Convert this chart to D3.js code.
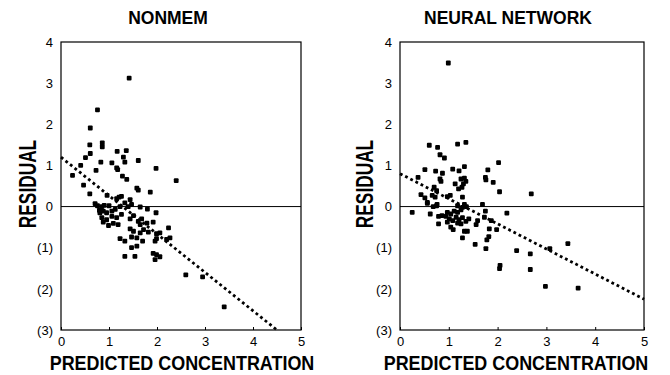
<!DOCTYPE html>
<html>
<head>
<meta charset="utf-8">
<script src="https://cdn.jsdelivr.net/npm/d3@7"></script>
<style>
  body { margin: 0; background: #fff; }
  svg { display: block; font-family: "Liberation Sans", Arial, sans-serif; }
</style>
</head>
<body>
<div id="chart"></div>
<script>
// predicted concentration / residual pairs
const nonmemPoints = [
  [1.42, 3.12], [0.76, 2.35], [0.61, 1.91], [0.86, 1.55], [0.86, 1.45], [0.60, 1.50],
  [0.61, 1.29], [0.51, 1.19], [1.17, 1.34], [1.36, 1.36], [1.30, 1.20], [1.33, 1.08],
  [1.61, 1.12], [0.83, 1.08], [1.06, 1.06], [1.16, 0.94], [1.18, 0.90], [0.41, 1.00],
  [0.73, 0.88], [1.98, 0.93], [2.40, 0.63], [0.24, 0.76], [1.28, 0.74], [1.37, 0.66],
  [0.47, 0.52], [1.58, 0.45], [1.61, 0.40], [1.86, 0.35], [0.60, 0.31], [0.96, 0.27],
  [1.21, 0.23], [1.26, 0.25], [1.16, 0.19], [1.44, 0.17],
  [0.71, 0.07], [0.76, 0.02], [0.85, 0.00], [0.90, 0.03], [1.00, 0.02], [1.06, -0.11],
  [1.13, -0.07], [1.23, 0.00], [1.33, 0.09], [1.40, 0.00], [1.47, 0.05], [1.65, -0.01],
  [1.80, -0.06], [1.98, -0.15], [0.88, -0.11], [0.95, -0.15], [0.81, -0.15], [0.80, -0.09],
  [0.85, -0.27], [0.95, -0.32], [1.06, -0.24], [1.16, -0.27], [1.26, -0.19],
  [0.88, -0.38], [0.99, -0.46], [1.09, -0.41], [1.19, -0.44],
  [1.44, -0.30], [1.51, -0.22], [1.61, -0.36], [1.68, -0.30], [1.65, -0.44], [1.79, -0.40],
  [1.92, -0.38], [1.44, -0.54], [1.51, -0.60], [1.65, -0.64], [1.72, -0.56], [1.82, -0.62],
  [1.99, -0.66], [2.06, -0.64], [2.24, -0.52], [1.23, -0.78], [1.33, -0.84], [1.47, -0.74],
  [1.58, -0.76], [1.70, -0.84], [1.96, -0.84], [1.99, -0.78], [2.20, -0.80], [2.27, -0.76],
  [1.47, -1.00], [1.58, -0.96], [1.33, -1.21], [1.54, -1.21], [1.92, -1.14], [1.99, -1.17],
  [2.06, -1.22], [1.96, -1.29], [2.60, -1.66], [2.95, -1.71], [3.40, -2.44]
];

const neuralPoints = [
  [0.99, 3.49], [0.60, 1.49], [0.77, 1.44], [1.18, 1.52], [1.35, 1.56], [0.82, 1.26],
  [0.91, 1.18], [0.51, 0.90], [0.73, 0.86], [0.87, 0.81], [1.08, 0.91], [1.21, 0.87],
  [1.32, 0.97], [0.37, 0.71], [0.82, 0.67], [0.84, 0.61], [1.25, 0.67], [1.32, 0.69],
  [1.35, 0.61], [1.30, 0.55], [1.27, 0.47], [1.13, 0.55], [1.20, 0.43], [1.75, 0.71],
  [1.80, 0.89], [1.76, 0.65], [2.02, 1.07], [1.91, 0.59], [2.04, 0.36], [0.43, 0.29],
  [0.51, 0.21], [0.70, 0.47], [0.75, 0.39], [0.66, 0.27], [0.72, 0.23], [0.97, 0.24],
  [1.03, 0.27], [1.28, 0.23], [0.56, 0.08], [0.68, 0.00], [0.75, 0.02], [0.76, 0.05],
  [1.18, 0.02], [1.32, 0.05], [1.36, 0.00], [1.69, 0.05],
  [0.25, -0.14], [0.56, 0.10], [0.62, -0.18], [0.79, -0.24], [0.86, -0.22], [0.79, -0.42],
  [0.97, -0.14], [1.04, -0.18], [1.11, -0.11], [1.18, -0.14], [1.25, -0.08], [1.28, -0.02],
  [1.01, -0.30], [1.08, -0.34], [1.15, -0.26], [1.21, -0.32], [1.28, -0.27], [1.35, -0.36],
  [1.41, -0.30], [1.18, -0.40], [1.04, -0.50], [1.09, -0.56], [1.25, -0.42], [1.32, -0.60],
  [1.38, -0.60], [1.28, -0.76], [0.97, -0.38], [0.94, -0.24],
  [1.59, -0.34], [1.56, -0.44], [1.73, -0.26], [1.75, -0.11], [1.87, -0.34], [1.83, -0.54],
  [1.98, -0.56], [2.19, -0.16], [1.82, -0.73], [1.78, -0.81], [1.54, -0.92], [1.76, -1.02],
  [2.05, -1.43], [2.04, -1.51], [2.39, -1.07], [2.67, -1.15], [2.67, -1.53], [3.07, -1.02],
  [3.44, -0.90], [2.98, -1.94], [3.65, -1.98], [2.69, 0.31]
];

// dotted regression lines: [x, y] end points
const nonmemTrend = [[0, 1.2], [4.5, -3]];
const neuralTrend = [[0, 0.8], [5, -2.25]];

const xTicks = [0, 1, 2, 3, 4, 5];
const yTicks = [4, 3, 2, 1, 0, -1, -2, -3];
const yTickLabels = ['4', '3', '2', '1', '0', '(1)', '(2)', '(3)'];

const width = 670;
const height = 375;
const plotTop = 42;
const plotBottom = 330;

const svg = d3.select('#chart').append('svg')
  .attr('width', width)
  .attr('height', height);

const panels = [
  { title: 'NONMEM', points: nonmemPoints, trend: nonmemTrend, left: 61, right: 301, titleX: 168, xTitleX: 182, yTitleX: 28 },
  { title: 'NEURAL NETWORK', points: neuralPoints, trend: neuralTrend, left: 400, right: 644, titleX: 508, xTitleX: 516, yTitleX: 365 }
];

panels.forEach(p => {
  const x = d3.scaleLinear().domain([0, 5]).range([p.left, p.right]);
  const y = d3.scaleLinear().domain([-3, 4]).range([plotBottom, plotTop]);
  const g = svg.append('g');

  // frame
  g.append('rect')
    .attr('x', p.left).attr('y', plotTop)
    .attr('width', p.right - p.left).attr('height', plotBottom - plotTop)
    .attr('fill', 'none').attr('stroke', '#000').attr('stroke-width', 1.2);

  // zero line
  g.append('line')
    .attr('x1', p.left).attr('x2', p.right)
    .attr('y1', y(0)).attr('y2', y(0))
    .attr('stroke', '#000').attr('stroke-width', 1);

  // x axis ticks inside the frame, labels below
  const xAxis = g.append('g')
    .attr('transform', `translate(0,${plotBottom})`)
    .call(d3.axisBottom(x).tickValues(xTicks).tickSize(-3).tickPadding(7).tickFormat(d3.format('d')));
  xAxis.select('.domain').remove();
  xAxis.selectAll('text').style('font-size', '13px').attr('fill', '#000');

  const yAxis = g.append('g')
    .attr('transform', `translate(${p.left},0)`)
    .call(d3.axisLeft(y).tickValues(yTicks).tickSize(0).tickPadding(8)
      .tickFormat((d, i) => yTickLabels[i]));
  yAxis.select('.domain').remove();
  yAxis.selectAll('text').style('font-size', '13px').attr('fill', '#000');

  // trend line
  g.append('line')
    .attr('x1', x(p.trend[0][0])).attr('y1', y(p.trend[0][1]))
    .attr('x2', x(p.trend[1][0])).attr('y2', y(p.trend[1][1]))
    .attr('stroke', '#000').attr('stroke-width', 2.8)
    .attr('stroke-dasharray', '2.8,3');

  // points
  g.append('g')
    .selectAll('rect')
    .data(p.points)
    .join('rect')
      .attr('x', d => x(d[0]) - 2.4)
      .attr('y', d => y(d[1]) - 2.4)
      .attr('width', 4.8)
      .attr('height', 4.8)
      .attr('rx', 1)
      .attr('fill', '#000');

  // titles
  g.append('text')
    .attr('x', p.titleX).attr('y', 24)
    .attr('text-anchor', 'middle')
    .style('font-size', '17.5px').style('font-weight', 'bold')
    .text(p.title);

  // axis titles are condensed in the original, squeeze them horizontally
  g.append('text')
    .attr('transform', `translate(${p.xTitleX},370) scale(0.897,1.05)`)
    .attr('text-anchor', 'middle')
    .style('font-size', '20px').style('font-weight', 'bold')
    .text('PREDICTED CONCENTRATION');

  g.append('text')
    .attr('transform', `translate(${p.yTitleX + 8},184) rotate(-90) scale(0.72,1)`)
    .attr('text-anchor', 'middle')
    .style('font-size', '24px').style('font-weight', 'bold')
    .text('RESIDUAL');
});
</script>
</body>
</html>
